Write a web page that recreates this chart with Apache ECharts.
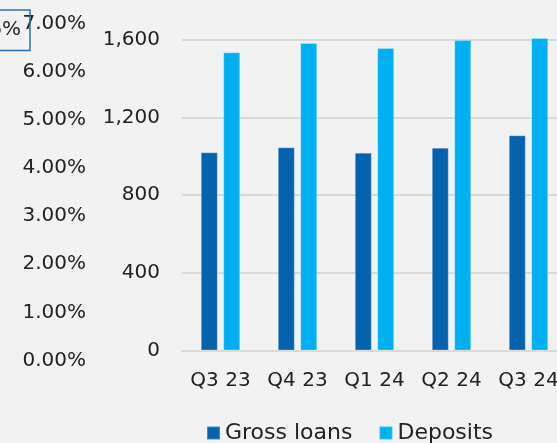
<!DOCTYPE html>
<html>
<head>
<meta charset="utf-8">
<script src="https://cdn.jsdelivr.net/npm/echarts@6/dist/echarts.min.js"></script>
<style>
  html, body { margin: 0; padding: 0; background: #f2f2f2; }
  #chart { width: 557px; height: 443px; }
</style>
</head>
<body>
<div id="chart"></div>
<script>
const quarters = ["Q3 23", "Q4 23", "Q1 24", "Q2 24", "Q3 24"];
const grossLoans = [1020, 1046, 1018, 1044, 1108];
const deposits = [1535, 1583, 1557, 1598, 1609];
const pctTicks = [0, 1, 2, 3, 4, 5, 6, 7];

const font = "DejaVu Sans";
const txt = "#222222";

const chart = echarts.init(document.getElementById("chart"));
chart.setOption({
  backgroundColor: "#f2f2f2",
  textStyle: { fontFamily: font },
  legend: {
    left: 201,
    top: 417,
    itemWidth: 13,
    itemHeight: 13,
    itemGap: 26,
    icon: "rect",
    textStyle: { fontSize: 22, color: txt, fontFamily: font },
    data: ["Gross loans", "Deposits"],
  },
  grid: [
    { left: 182, width: 385, top: -38, height: 388.5, outerBoundsMode: "none", containLabel: false },
    // left-hand percent scale (cut-off neighbour chart)
    { left: 94, width: 10, top: 23.5, height: 337, outerBoundsMode: "none", containLabel: false },
  ],
  xAxis: [
    {
      type: "category",
      gridIndex: 0,
      data: quarters,
      axisTick: { show: false },
      axisLine: { lineStyle: { color: "#d9d9d9", width: 2 } },
      axisLabel: { color: txt, fontSize: 20, margin: 20, interval: 0, hideOverlap: false },
    },
    { type: "value", gridIndex: 1, show: false },
  ],
  yAxis: [
    {
      type: "value",
      gridIndex: 0,
      min: 0,
      max: 2000,
      interval: 400,
      axisLine: { show: false },
      axisTick: { show: false },
      splitLine: { lineStyle: { color: "#d9d9d9", width: 2 } },
      axisLabel: {
        color: txt,
        fontSize: 20,
        margin: 22,
        formatter: (v) => v.toLocaleString("en-US"),
      },
    },
    {
      type: "value",
      gridIndex: 1,
      min: pctTicks[0],
      max: pctTicks[pctTicks.length - 1],
      interval: 1,
      axisLine: { show: false },
      axisTick: { show: false },
      splitLine: { show: false },
      axisLabel: {
        color: txt,
        fontSize: 20,
        margin: 8,
        formatter: (v) => v.toFixed(2) + "%",
      },
    },
  ],
  series: [
    {
      name: "Gross loans",
      type: "bar",
      data: grossLoans,
      barWidth: 17,
      barGap: "32%",
      itemStyle: { color: "#0563ae", borderColor: "rgba(255,255,255,0.25)", borderWidth: 1 },
    },
    {
      name: "Deposits",
      type: "bar",
      data: deposits,
      barWidth: 17,
      itemStyle: { color: "#00b0f0", borderColor: "rgba(255,255,255,0.25)", borderWidth: 1 },
    },
  ],
  graphic: [
    {
      type: "rect",
      shape: { x: -2, y: 10, width: 32, height: 40.5 },
      style: { fill: "none", stroke: "#2e6db4", lineWidth: 1.5 },
      z: 10,
    },
    {
      type: "text",
      x: 21,
      y: 30,
      style: {
        text: "6%",
        font: "20px " + font,
        fill: txt,
        textAlign: "right",
        textVerticalAlign: "middle",
      },
      z: 10,
    },
  ],
});
</script>
</body>
</html>
